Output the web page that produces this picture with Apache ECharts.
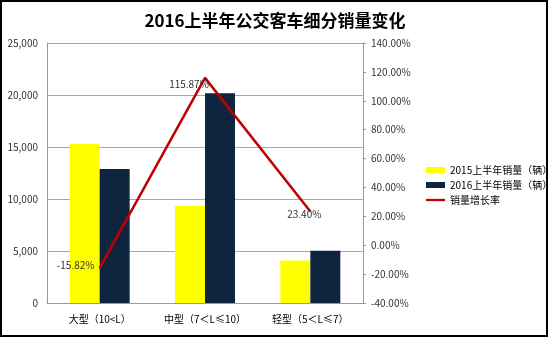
<!DOCTYPE html>
<html><head><meta charset="utf-8">
<script src="https://cdn.jsdelivr.net/npm/echarts@6/dist/echarts.min.js"></script>
<style>html,body{margin:0;padding:0;background:#fff}#c{width:550px;height:338px}</style>
</head><body><div id="c"></div>
<script>
const title = '2016上半年公交客车细分销量变化';
const categories = ['大型（10<L）', '中型（7＜L≤10）', '轻型（5＜L≤7）'];
const sales2015 = [15300, 9340, 4080];
const sales2016 = [12880, 20160, 5035];
const growthRate = [-15.82, 115.87, 23.40];
const seriesNames = ['2015上半年销量（辆）', '2016上半年销量（辆）', '销量增长率'];

const font = '"Noto Sans CJK SC", "Noto Sans", sans-serif';
const chart = echarts.init(document.getElementById('c'), null, {renderer: 'canvas'});
const labelOffsets = [[-24, -3], [-16, 6], [-6, 3]];
chart.setOption({
  animation: false,
  textStyle: {fontFamily: font},
  title: {text: title, left: 'center', top: 7, textStyle: {fontSize: 17, fontWeight: 'bold', color: '#000', fontFamily: font}},
  graphic: [{type: 'rect', shape: {x: 1, y: 1, width: 546, height: 335}, style: {fill: 'none', stroke: '#000', lineWidth: 2}, silent: true}],
  grid: {left: 47, right: 187, top: 43, bottom: 35},
  legend: {
    orient: 'vertical', left: 421, top: 160, itemGap: 5, itemWidth: 19, itemHeight: 6,
    textStyle: {fontSize: 10, color: '#000'},
    data: [
      {name: seriesNames[0], icon: 'rect'},
      {name: seriesNames[1], icon: 'rect'},
      {name: seriesNames[2], icon: 'path://M0,0 L10,0 L10,1.2 L0,1.2 Z'}
    ]
  },
  xAxis: {
    type: 'category', data: categories,
    axisLine: {lineStyle: {color: '#999'}}, axisTick: {show: false},
    axisLabel: {fontSize: 10, color: '#000', margin: 11, interval: 0}
  },
  yAxis: [
    {type: 'value', min: 0, max: 25000, interval: 5000,
     axisLine: {show: true, lineStyle: {color: '#999'}}, axisTick: {show: false},
     splitLine: {lineStyle: {color: '#a6a6a6'}},
     axisLabel: {fontSize: 10, color: '#333', margin: 9, formatter: v => v.toLocaleString('en-US')}},
    {type: 'value', min: -40, max: 140, interval: 20, position: 'right',
     axisLine: {show: true, lineStyle: {color: '#999'}},
     axisTick: {show: true, length: 3, lineStyle: {color: '#999'}},
     splitLine: {show: false},
     axisLabel: {fontSize: 10, color: '#333', margin: 8, formatter: v => v.toFixed(2) + '%'}}
  ],
  series: [
    {name: seriesNames[0], type: 'bar', data: sales2015, barWidth: 30, barGap: '0%', itemStyle: {color: '#ffff00'}},
    {name: seriesNames[1], type: 'bar', data: sales2016, barWidth: 30, itemStyle: {color: '#0f243e'}},
    {name: seriesNames[2], type: 'line', yAxisIndex: 1, symbol: 'circle', symbolSize: 1, showSymbol: true,
     itemStyle: {color: '#c00000'},
     lineStyle: {color: '#c00000', width: 2.5},
     data: growthRate.map((v, i) => ({value: v, label: {offset: labelOffsets[i]}})),
     label: {show: true, position: 'inside', fontSize: 10, color: '#333', formatter: p => p.value.toFixed(2) + '%'}}
  ]
});
</script></body></html>
